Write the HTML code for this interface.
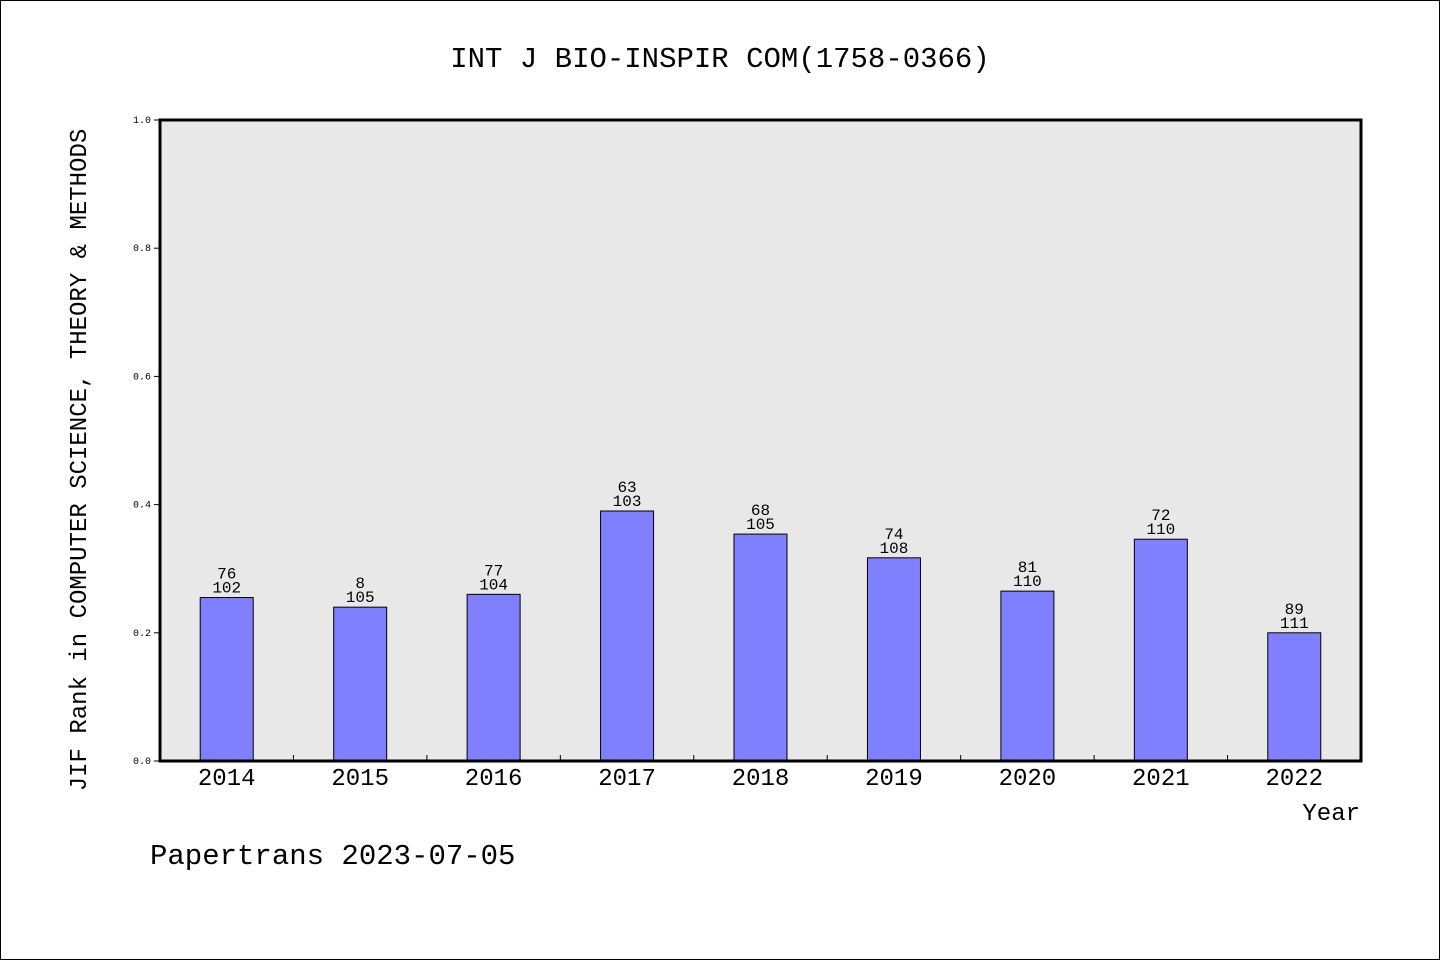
<!DOCTYPE html>
<html><head><meta charset="utf-8"><style>
html,body{margin:0;padding:0;background:#fff}
svg text{font-family:"Liberation Mono","WenQuanYi Zen Hei",monospace;fill:#000}
</style></head><body>
<svg id="chart" width="1440" height="960" xmlns="http://www.w3.org/2000/svg">
<rect x="0.5" y="0.5" width="1439" height="959" fill="#fff" stroke="#000"/>
<text x="720" y="67" font-size="29" text-anchor="middle">INT J BIO-INSPIR COM(1758-0366)</text>
<rect x="160" y="120" width="1201" height="641" fill="#e8e8e8"/>
<g id="yaxis"></g>
<g id="bars"></g>
<rect x="160" y="120" width="1201" height="641" fill="none" stroke="#000" stroke-width="3"/>
<text transform="translate(86,460) rotate(-90)" font-size="24" text-anchor="middle">JIF Rank in COMPUTER SCIENCE, THEORY &amp; METHODS</text>
<text x="1360" y="820" font-size="24" text-anchor="end">Year</text>
<text x="150" y="864" font-size="29">Papertrans 2023-07-05</text>
</svg>
<script>
const categories=["2014","2015","2016","2017","2018","2019","2020","2021","2022"];
const values=[0.255,0.240,0.260,0.390,0.354,0.317,0.265,0.346,0.200];
const ranks=["76","8","77","63","68","74","81","72","89"];
const totals=["102","105","104","103","105","108","110","110","111"];
const yTicks=[0,0.2,0.4,0.6,0.8,1.0];
const yTickLabels=["0.0","0.2","0.4","0.6","0.8","1.0"];
const NS="http://www.w3.org/2000/svg";
const X0=160,X1=1361,Y0=761,Y1=120;
const slot=(X1-X0)/categories.length;
const xc=i=>X0+slot*(i+0.5);
const y=v=>Y0-(Y0-Y1)*v;
function mk(tag,attrs,parent){const e=document.createElementNS(NS,tag);for(const k in attrs)e.setAttribute(k,attrs[k]);parent.appendChild(e);return e;}
const ya=document.getElementById('yaxis');
yTicks.forEach((t,i)=>{
  const l=mk('line',{x1:X0-6,x2:X0,y1:y(t),y2:y(t),stroke:'#000'},ya);
  
  
  const tx=mk('text',{x:X0-9,y:y(t)+3,'font-size':10,'text-anchor':'end'},ya);
  tx.textContent=yTickLabels[i];
  
  
});
const bg=document.getElementById('bars');
for(let i=1;i<categories.length;i++){
  const l=mk('line',{x1:X0+slot*i,x2:X0+slot*i,y1:Y0,y2:Y0-6,stroke:'#000'},bg);
  
  
}
const bw=53;
categories.forEach((c,i)=>{
  const top=y(values[i]);
  const r=mk('rect',{x:xc(i)-bw/2,y:top,width:bw,height:Y0-top,fill:'#8080ff',stroke:'#000','stroke-width':1},bg);
  
  
  const t1=mk('text',{x:xc(i),y:top-19,'font-size':16,'text-anchor':'middle'},bg);
  t1.textContent=ranks[i];
  
  
  const t2=mk('text',{x:xc(i),y:top-5,'font-size':16,'text-anchor':'middle'},bg);
  t2.textContent=totals[i];
  
  
  const xl=mk('text',{x:xc(i),y:785,'font-size':24,'text-anchor':'middle'},bg);
  xl.textContent=c;
  
  
});
</script>
</body></html>
